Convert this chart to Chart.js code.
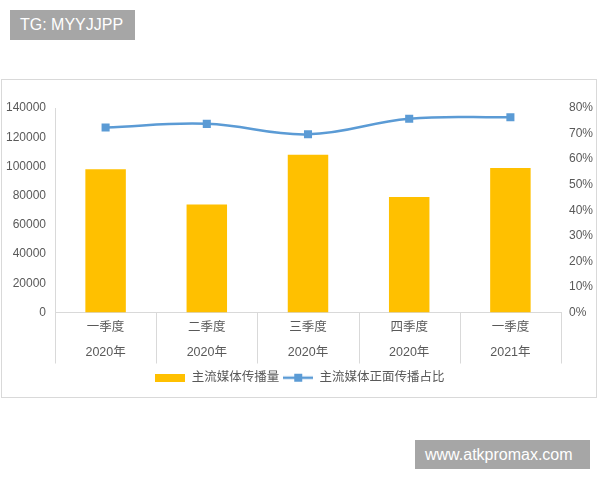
<!DOCTYPE html>
<html>
<head>
<meta charset="utf-8">
<script src="https://cdn.jsdelivr.net/npm/chart.js@4"></script>
<style>
  html, body { margin: 0; padding: 0; background: #ffffff; width: 600px; height: 480px; overflow: hidden; }
  #wrap { position: relative; width: 600px; height: 480px; }
  #frame { position: absolute; left: 1px; top: 79px; width: 596px; height: 319px; border: 1px solid #d9d9d9; box-sizing: border-box; }
  canvas { position: absolute; left: 0; top: 0; }
  .wm { position: absolute; background: #a6a6a6; color: #ffffff; font-family: "Liberation Sans", Arial, sans-serif; font-size: 16px; line-height: 30px; box-sizing: border-box; }
  #wm1 { left: 10px; top: 10px; width: 125px; height: 30px; padding-left: 10px; }
  #wm2 { left: 415px; top: 440px; width: 175px; height: 29px; padding-left: 10px; line-height: 29px; }
</style>
</head>
<body>
<div id="wrap">
  <div id="frame"></div>
  <canvas id="c" width="600" height="480"></canvas>
  <div class="wm" id="wm1">TG: MYYJJPP</div>
  <div class="wm" id="wm2">www.atkpromax.com</div>
</div>
<script>
// ---- data ----
const quarters = ['一季度', '二季度', '三季度', '四季度', '一季度'];
const years = ['2020年', '2020年', '2020年', '2020年', '2021年'];
const volume = [98000, 74000, 108000, 79000, 99000];          // 主流媒体传播量
const positiveShare = [72.4, 73.8, 69.7, 75.8, 76.4];          // 主流媒体正面传播占比 (%)
const seriesNames = ['主流媒体传播量', '主流媒体正面传播占比'];

const labels = quarters.map((q, i) => [q, years[i]]);

const BAR_COLOR = '#ffc000';
const LINE_COLOR = '#5b9bd5';
const TEXT_COLOR = '#595959';
const AXIS_COLOR = '#d9d9d9';

Chart.defaults.font.family = '"Liberation Sans", "Noto Sans CJK SC", sans-serif';
Chart.defaults.font.size = 12.5;
Chart.defaults.color = TEXT_COLOR;

function legendBar() {
  const c = document.createElement('canvas');
  c.width = 30; c.height = 8;
  const g = c.getContext('2d');
  g.fillStyle = BAR_COLOR;
  g.fillRect(0, 0, 30, 8);
  return c;
}
function legendLine() {
  const c = document.createElement('canvas');
  c.width = 30; c.height = 10;
  const g = c.getContext('2d');
  g.strokeStyle = LINE_COLOR;
  g.lineWidth = 2.5;
  g.beginPath(); g.moveTo(0, 5); g.lineTo(30, 5); g.stroke();
  g.fillStyle = LINE_COLOR;
  g.fillRect(11, 1, 8, 8);
  return c;
}
const legendImgs = [legendBar(), legendLine()];

// category separator lines below the x axis (table-style axis)
const categoryGrid = {
  id: 'categoryGrid',
  afterDraw(chart) {
    const xs = chart.scales.x;
    const ctx = chart.ctx;
    ctx.save();
    ctx.strokeStyle = AXIS_COLOR;
    ctx.lineWidth = 1;
    for (let i = 0; i <= chart.data.labels.length; i++) {
      const px = Math.round(xs.getPixelForValue(i - 0.5)) + 0.5;
      ctx.beginPath();
      ctx.moveTo(px, chart.chartArea.bottom);
      ctx.lineTo(px, chart.chartArea.bottom + 51);
      ctx.stroke();
    }
    ctx.restore();
  }
};

new Chart(document.getElementById('c'), {
  data: {
    labels: labels,
    datasets: [
      {
        type: 'bar',
        label: seriesNames[0],
        data: volume,
        backgroundColor: BAR_COLOR,
        borderWidth: 0,
        barPercentage: 0.4,
        categoryPercentage: 1.0,
        yAxisID: 'y',
        order: 2
      },
      {
        type: 'line',
        label: seriesNames[1],
        data: positiveShare,
        borderColor: LINE_COLOR,
        backgroundColor: LINE_COLOR,
        borderWidth: 2.5,
        tension: 0.4,
        pointStyle: 'rect',
        pointRadius: 5.7,
        pointBorderWidth: 0,
        pointBackgroundColor: LINE_COLOR,
        yAxisID: 'y1',
        order: 1
      }
    ]
  },
  plugins: [categoryGrid],
  options: {
    responsive: false,
    animation: false,
    layout: { padding: { top: 108, left: 0, right: 0, bottom: 86 } },
    plugins: {
      tooltip: { enabled: false },
      legend: {
        position: 'bottom',
        labels: {
          usePointStyle: true,
          pointStyleWidth: 30,
          padding: 4,
          color: TEXT_COLOR,
          font: { size: 12.5 },
          generateLabels: (chart) => chart.data.datasets.map((ds, i) => ({
            text: ds.label,
            datasetIndex: i,
            pointStyle: legendImgs[i],
            fillStyle: i === 0 ? BAR_COLOR : LINE_COLOR,
            strokeStyle: 'rgba(0,0,0,0)',
            lineWidth: 0,
            hidden: false,
            fontColor: TEXT_COLOR
          }))
        }
      }
    },
    scales: {
      x: {
        offset: true,
        grid: { display: false, drawTicks: false },
        border: { display: true, color: AXIS_COLOR, width: 1 },
        ticks: {
          color: TEXT_COLOR,
          padding: 2.5,
          maxRotation: 0,
          autoSkip: false,
          font: { size: 12.5, lineHeight: 2.0 }
        }
      },
      y: {
        position: 'left',
        min: 0,
        max: 140000,
        grid: { display: false, drawTicks: false },
        border: { display: true, color: AXIS_COLOR, width: 1 },
        ticks: { stepSize: 20000, padding: 9, color: TEXT_COLOR, font: { size: 12 }, callback: (v) => String(v) },
        afterFit: (s) => { s.width = 55; }
      },
      y1: {
        position: 'right',
        min: 0,
        max: 80,
        grid: { display: false, drawTicks: false },
        border: { display: false },
        ticks: { stepSize: 10, padding: 8, color: TEXT_COLOR, font: { size: 12 }, callback: (v) => v + '%' },
        afterFit: (s) => { s.width = 39; }
      }
    }
  }
});
</script>
</body>
</html>
